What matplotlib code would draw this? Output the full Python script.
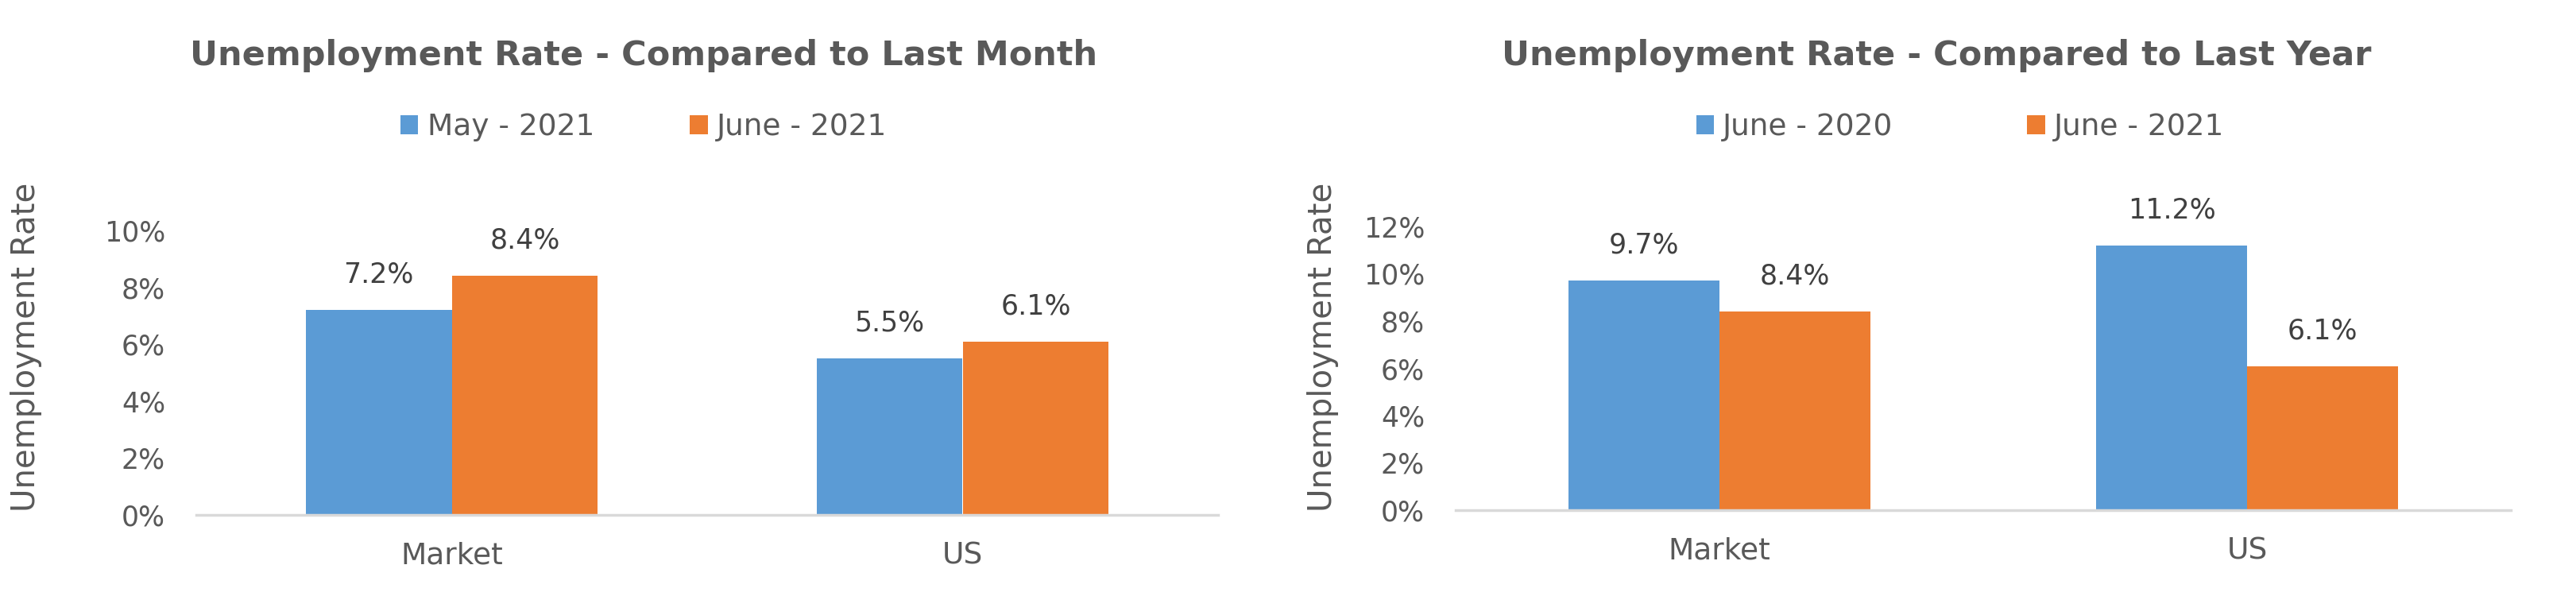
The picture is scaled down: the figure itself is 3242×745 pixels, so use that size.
import matplotlib
matplotlib.use("Agg")
import matplotlib.pyplot as plt
from matplotlib.ticker import FuncFormatter

# data
categories = ["Market", "US"]

month_labels = ["May - 2021", "June - 2021"]
month_prev = [7.2, 5.5]
month_curr = [8.4, 6.1]

year_labels = ["June - 2020", "June - 2021"]
year_prev = [9.7, 11.2]
year_curr = [8.4, 6.1]

BLUE = "#5B9BD5"
ORANGE = "#ED7D31"
TEXT = "#595959"
LABEL = "#404040"
AXIS = "#D9D9D9"

plt.rcParams["font.family"] = ["DejaVu Sans"]

fig = plt.figure(figsize=(32.42, 7.45), dpi=100)


def draw_panel(ax, prev, curr, labels, ymax, title, title_x, legend_x, colspace):
    x = list(range(len(categories)))
    w = 0.286
    b1 = ax.bar([i - w / 2 for i in x], prev, width=w, color=BLUE, label=labels[0])
    b2 = ax.bar([i + w / 2 for i in x], curr, width=w, color=ORANGE, label=labels[1])

    for bars, vals in ((b1, prev), (b2, curr)):
        for bar, v in zip(bars, vals):
            ax.annotate(f"{v:.1f}%", (bar.get_x() + bar.get_width() / 2, v),
                        xytext=(0, 32), textcoords="offset points",
                        ha="center", va="center", fontsize=25, color=LABEL)

    ax.set_xlim(-0.5, len(categories) - 0.5)
    ax.set_ylim(0, ymax)
    ax.set_yticks(range(0, ymax + 1, 2))
    ax.yaxis.set_major_formatter(FuncFormatter(lambda v, p: f"{int(v)}%"))
    ax.set_xticks(x)
    ax.set_xticklabels(categories)
    ax.tick_params(axis="y", length=0, pad=28, labelsize=25, labelcolor=TEXT)
    ax.tick_params(axis="x", length=0, pad=24, labelsize=27, labelcolor=TEXT)
    for side in ("top", "right", "left"):
        ax.spines[side].set_visible(False)
    ax.spines["bottom"].set_color(AXIS)
    ax.spines["bottom"].set_linewidth(2.5)

    fig.text(title_x, 1 - 70 / 745, title, ha="center", va="center",
             fontsize=31, fontweight="bold", color=TEXT)
    fig.legend(handles=[b1, b2], labels=labels, loc="center",
               bbox_to_anchor=(legend_x, 1 - 160 / 745), ncol=2, frameon=False,
               fontsize=27, labelcolor=TEXT, handlelength=0.6, handleheight=0.6,
               handletextpad=0.3, columnspacing=colspace)


ax1 = fig.add_axes([247 / 3242, 1 - 648 / 745, 1286 / 3242, 358 / 745])
draw_panel(ax1, month_prev, month_curr, month_labels, 10,
           "Unemployment Rate - Compared to Last Month", 810 / 3242, 810 / 3242, 3.2)
fig.text(33 / 3242, 1 - 437 / 745, "Unemployment Rate", rotation=90,
         ha="center", va="center", fontsize=29, color=TEXT)

ax2 = fig.add_axes([1832 / 3242, 1 - 642 / 745, 1328 / 3242, 357 / 745])
draw_panel(ax2, year_prev, year_curr, year_labels, 12,
           "Unemployment Rate - Compared to Last Year", 2437 / 3242, 2467 / 3242, 4.5)
fig.text(1665 / 3242, 1 - 437 / 745, "Unemployment Rate", rotation=90,
         ha="center", va="center", fontsize=29, color=TEXT)

fig.savefig("out.png", dpi=100)
